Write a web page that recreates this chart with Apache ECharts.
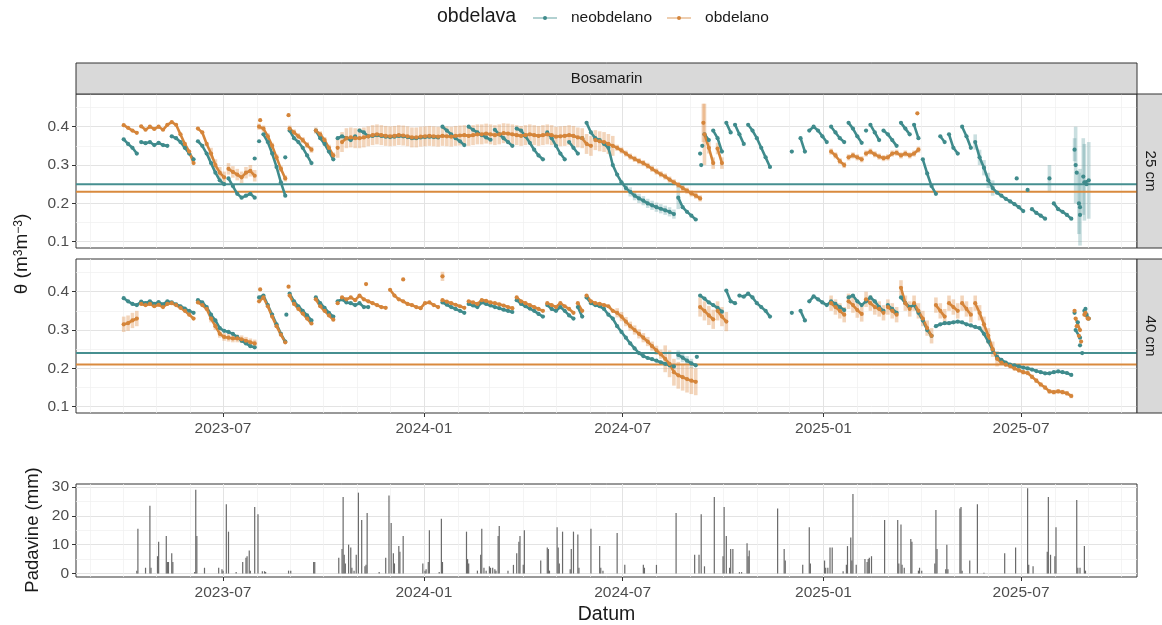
<!DOCTYPE html>
<html>
<head>
<meta charset="utf-8">
<script src="https://cdn.jsdelivr.net/npm/echarts@6/dist/echarts.min.js"></script>
<style>
  html, body { margin: 0; padding: 0; background: #ffffff; }
  #chart { width: 1162px; height: 625px; }
</style>
</head>
<body>
<div id="chart"></div>
<script>
// Soil water content θ (m3/m3), one reading every STEP_DAYS days from SERIES_START; null = no reading.
const SERIES_START = '2023-04-01';
const STEP_DAYS = 4;

// 25 cm, neobdelano
const neo25 = [
  .367,.355,.345,.33,.36,.357,.36,.352,.358,.352,
  .35,.375,.37,.36,.345,.33,.315,.362,.35,.33,
  .305,.28,.26,.25,.265,.245,.225,.215,.22,.225,
  .215,.362,.38,.36,.33,.295,.255,.22,.39,.37,
  .36,.345,.325,.305,.39,.37,.355,.335,.315,.37,
  .375,.37,.365,.375,.39,.385,.375,.376,.378,.376,
  .374,.373,.374,.376,.375,.373,.37,.37,.372,.373,
  .374,.373,.372,.4,.39,.38,.37,.362,.352,.4,
  .392,.385,.378,.372,.366,.392,.38,.37,.36,.35,
  .395,.39,.375,.358,.34,.325,.315,.385,.37,.35,
  .33,.315,.36,.345,.33,.37,.41,.385,.37,.365,
  .355,.345,.3,.275,.255,.24,.23,.22,.213,.207,
  .2,.195,.19,.186,.182,.178,.172,.215,.19,.178,
  .168,.158,.33,.38,.365,.39,.37,.335,.41,.385,
  .405,.38,.355,.405,.39,.37,.345,.32,.295,null,
  null,null,null,.335,null,.37,.335,.39,.4,.39,
  .375,.36,.4,.385,.37,.36,.41,.395,.375,.358,
  .39,.405,.385,.365,.39,.38,.365,.35,.41,.395,
  .38,.405,.37,.315,.278,.245,.225,.375,.36,.38,
  .345,.33,.4,.375,.345,.36,.32,.293,.26,.24,
  .228,.22,.212,.205,.198,.19,.18,.235,.185,.175,
  .168,.16,.265,.2,.185,.178,.17,.16,.3,.19,
  .255,.26
];
// 25 cm, obdelano
const obd25 = [
  .404,.397,.39,.384,.401,.392,.4,.394,.4,.392,
  .405,.412,.405,.38,.355,.335,.305,.395,.385,.355,
  .33,.3,.28,.268,.29,.282,.275,.268,.28,.285,
  .272,.4,.395,.375,.35,.32,.29,.265,.395,.385,
  .375,.365,.352,.34,.39,.38,.365,.345,.325,.345,
  .36,.37,.372,.37,.37,.372,.375,.378,.38,.378,
  .376,.375,.376,.378,.377,.375,.372,.372,.374,.375,
  .376,.375,.374,.376,.375,.374,.376,.377,.378,.376,
  .378,.38,.38,.382,.38,.378,.38,.383,.382,.38,
  .378,.376,.378,.38,.378,.376,.378,.38,.378,.374,
  .375,.376,.378,.376,.372,.37,.355,.35,.365,.362,
  .36,.355,.35,.345,.338,.33,.322,.316,.31,.305,
  .298,.29,.283,.276,.27,.262,.255,.248,.24,.233,
  .226,.22,.213,.38,.345,.305,.343,.305,null,null,
  null,null,null,null,null,null,null,null,null,null,
  null,null,null,null,null,null,null,null,null,null,
  null,null,.335,.325,.31,.3,.32,.325,.32,.315,
  .33,.335,.328,.322,.318,.32,.33,.332,.325,.33,
  .325,.33,.34,null,null,null,null,null,null,null,
  null,null,null,null,null,null,null,null,null,null,
  null,null,null,null,null,null,null,null,null,null,
  null,null,null,null,null,null,null,null,null,null,
  null,null
];
// 40 cm, neobdelano
const neo40 = [
  .383,.375,.368,.365,.374,.37,.375,.368,.373,.367,
  .375,.372,.367,.362,.356,.35,.345,.378,.372,.36,
  .34,.325,.305,.298,.295,.29,.282,.272,.265,.258,
  .255,.385,.39,.365,.34,.315,.29,.27,.395,.375,
  .362,.35,.338,.325,.385,.37,.358,.345,.335,.375,
  .38,.372,.37,.365,.37,.36,.36,null,null,null,
  null,null,null,null,null,null,null,null,null,null,
  null,null,null,.372,.366,.36,.355,.35,.345,.368,
  .364,.36,.372,.368,.364,.36,.357,.353,.35,.347,
  .378,.368,.362,.356,.35,.342,.335,.365,.355,.35,
  .36,.35,.338,.33,.36,.335,.385,.37,.365,.362,
  .355,.34,.33,.31,.295,.28,.265,.252,.24,.232,
  .227,.224,.22,.216,.212,.208,.205,.235,.228,.22,
  .213,.208,.39,.382,.372,.365,.358,.348,.403,.375,
  .37,.39,.387,.395,.385,.37,.36,.35,.335,null,
  null,null,null,.345,null,.35,.325,.375,.388,.38,
  .372,.365,.375,.368,.36,.352,.385,.39,.375,.365,
  .375,.385,.375,.36,.35,.365,.355,.345,.385,.37,
  .36,.365,.345,.325,.3,.285,.31,.315,.318,.318,
  .32,.322,.32,.315,.312,.308,.305,.29,.27,.248,
  .23,.222,.215,.21,.208,.205,.202,.2,.197,.193,
  .19,.187,.187,.19,.192,.19,.188,.183,.3,.28,
  .35,.33
];
// 40 cm, obdelano
const obd40 = [
  .315,.318,.325,.33,.368,.365,.368,.362,.366,.36,
  .368,.37,.365,.358,.35,.34,.33,.372,.365,.355,
  .33,.31,.29,.282,.28,.278,.278,.276,.272,.268,
  .265,.375,.385,.362,.335,.31,.288,.268,.39,.368,
  .355,.343,.33,.317,.38,.362,.35,.338,.327,.37,
  .385,.38,.385,.378,.39,.38,.375,.37,.365,.36,
  .358,.405,.39,.38,.375,.368,.365,.36,.357,.37,
  .372,.365,.36,.378,.374,.37,.366,.362,.358,.375,
  .372,.368,.378,.376,.372,.37,.367,.364,.36,.357,
  .385,.375,.37,.365,.36,.355,.35,.37,.365,.36,
  .37,.362,.355,.345,.37,.35,.39,.375,.37,.368,
  .365,.362,.35,.345,.335,.322,.31,.3,.29,.28,
  .27,.258,.247,.237,.225,.212,.19,.182,.177,.172,
  .168,.165,.36,.35,.338,.328,.35,.335,.322,null,
  null,null,null,null,null,null,null,null,null,null,
  null,null,null,null,null,null,null,null,null,null,
  null,null,.37,.36,.35,.34,.375,.365,.352,.342,
  .38,.37,.36,.355,.345,.36,.35,.34,.41,.37,
  .355,.37,.35,.33,.305,.285,.365,.35,.335,.37,
  .36,.35,.37,.355,.34,.37,.345,.315,.285,.25,
  .225,.215,.21,.206,.2,.195,.19,.188,.178,.168,
  .158,.15,.14,.138,.14,.138,.135,.128,.33,.3,
  .34,.33
];

// Readings between the regular steps: [date, θ, optional error half-width]
const neo25Extra = [['2023-07-30',.317],['2023-08-27',.32],['2024-09-11',.3],['2024-09-12',.35],['2025-06-27',.265],
  ['2025-08-19',.34,.03],['2025-08-21',.28],['2025-08-23',.2,.08],['2025-08-24',.17],['2025-08-27',.27,.1],['2025-08-30',.25]];
const obd25Extra = [['2023-08-04',.417],['2023-08-30',.43],['2024-09-13',.41,.05],['2025-03-28',.435]];
const neo40Extra = [['2023-08-28',.34],['2024-09-07',.23],['2025-08-19',.345],['2025-08-22',.32],['2025-08-24',.26],
  ['2025-08-26',.24],['2025-08-29',.355],['2025-08-30',.34]];
const obd40Extra = [['2023-08-04',.406],['2023-08-30',.413],['2023-11-09',.42],['2023-12-13',.432],['2024-01-18',.44,.012],
  ['2025-08-19',.35],['2025-08-21',.31],['2025-08-23',.285],['2025-08-25',.27],['2025-08-29',.345],['2025-08-31',.33]];

// Spread between sensors: [from, to, half-width]
const neo25Spread = [['2024-07-04','2024-08-17',.012],['2024-08-21','2024-08-21',.03],['2025-05-20','2025-06-05',.02],
  ['2025-07-27','2025-07-27',.035],['2025-08-20','2025-09-01',.1]];
const obd25Spread = [['2023-06-20','2023-07-30',.015],['2023-08-03','2023-10-10',.008],['2023-10-14','2024-06-22',.026],
  ['2024-06-26','2024-09-10',.008],['2024-09-14','2024-09-14',.08],['2024-09-18','2024-09-30',.015],['2025-01-08','2025-03-29',.008]];
const neo40Spread = [['2024-08-21','2024-09-02',.012]];
const obd40Spread = [['2023-04-01','2023-04-13',.02],['2023-06-20','2023-07-30',.01],['2024-06-26','2024-08-05',.012],
  ['2024-08-09','2024-09-06',.035],['2024-09-10','2024-10-04',.025],['2025-01-08','2025-06-09',.02],['2025-06-13','2025-08-16',.006]];

// Critical water content per treatment [neobdelano, obdelano]
const threshold25 = [0.25, 0.23];
const threshold40 = [0.24, 0.21];

// Daily precipitation (mm)
const precipitation = [
  ['2023-04-13',1],['2023-04-14',15.5],['2023-04-21',2],['2023-04-25',23.5],['2023-04-26',2],['2023-05-02',6],['2023-05-03',11],
  ['2023-05-10',13],['2023-05-11',4],['2023-05-12',4],['2023-05-15',7],['2023-05-16',4],['2023-06-05',0.5],['2023-06-06',29],
  ['2023-06-07',13],['2023-06-14',2],['2023-06-27',2],['2023-06-30',1.5],['2023-07-01',1],['2023-07-04',24],['2023-07-06',14.5],
  ['2023-07-13',0.5],['2023-07-19',4],['2023-07-22',5.5],['2023-07-23',6],['2023-07-25',8],['2023-07-26',1],['2023-07-30',23],
  ['2023-08-02',20.5],['2023-08-06',0.8],['2023-08-08',0.8],['2023-08-09',0.5],['2023-08-30',1],['2023-09-01',1],['2023-09-22',4],
  ['2023-09-23',4],['2023-10-15',5.5],['2023-10-18',8.5],['2023-10-19',26.5],['2023-10-20',6.5],['2023-10-21',3.5],['2023-10-24',10],
  ['2023-10-26',9],['2023-10-27',2],['2023-10-29',1],['2023-10-31',6.5],['2023-11-02',28],['2023-11-05',18.5],['2023-11-08',2.5],
  ['2023-11-09',3],['2023-11-10',21],['2023-11-21',0.5],['2023-11-27',5.5],['2023-11-30',27],['2023-12-02',17.5],['2023-12-04',7],
  ['2023-12-05',3.5],['2023-12-09',9.5],['2023-12-10',7.5],['2023-12-13',13],['2023-12-31',3.5],['2024-01-02',1],['2024-01-03',1.5],
  ['2024-01-05',4],['2024-01-06',15],['2024-01-15',0.5],['2024-01-17',19],['2024-01-18',4],['2024-02-09',14.5],['2024-02-10',5],
  ['2024-02-11',3.5],['2024-02-19',1],['2024-02-22',6.5],['2024-02-23',15.5],['2024-02-25',2],['2024-02-27',1],['2024-03-01',2.5],
  ['2024-03-02',2],['2024-03-04',2],['2024-03-06',1.5],['2024-03-07',1],['2024-03-09',13],['2024-03-10',16.5],['2024-03-18',1],
  ['2024-03-23',3],['2024-03-26',7],['2024-03-28',11],['2024-03-29',13],['2024-04-01',3],['2024-04-02',15],['2024-04-17',4.5],
  ['2024-04-23',9],['2024-04-24',8.5],['2024-04-25',1],['2024-05-02',16],['2024-05-03',9],['2024-05-04',3.5],['2024-05-07',14.5],
  ['2024-05-14',1.5],['2024-05-15',8.5],['2024-05-17',14.5],['2024-05-21',13.5],['2024-05-22',2],['2024-06-02',15.5],['2024-06-10',9.5],
  ['2024-06-11',2],['2024-06-13',1],['2024-06-26',14],['2024-07-03',3],['2024-07-20',3],['2024-07-21',2],['2024-08-01',3],
  ['2024-08-19',21],['2024-09-05',6.5],['2024-09-09',6.5],['2024-09-11',20.5],['2024-09-14',2.5],['2024-09-23',26.5],['2024-10-01',6],
  ['2024-10-02',23],['2024-10-04',13],['2024-10-07',2],['2024-10-08',8.5],['2024-10-10',8.5],['2024-10-16',0.5],['2024-10-18',0.5],
  ['2024-10-23',10.5],['2024-10-24',6],['2024-10-25',8],['2024-11-20',22.5],['2024-11-26',8.5],['2024-11-27',4.5],['2024-12-13',3],
  ['2024-12-19',16],['2024-12-20',3.5],['2025-01-02',4.5],['2025-01-03',2],['2025-01-05',2],['2025-01-07',9],['2025-01-09',9],
  ['2025-01-19',0.8],['2025-01-22',3],['2025-01-23',9.5],['2025-01-26',12.5],['2025-01-27',4.5],['2025-01-28',27.5],['2025-01-31',3],
  ['2025-02-08',5],['2025-02-10',4],['2025-02-11',5],['2025-02-12',5.5],['2025-02-14',6],['2025-02-26',18.5],['2025-03-10',18.5],
  ['2025-03-11',3.5],['2025-03-13',17],['2025-03-14',3],['2025-03-16',2],['2025-03-22',12],['2025-03-23',11],['2025-03-29',1],
  ['2025-03-30',2],['2025-04-01',1],['2025-04-13',3.5],['2025-04-14',22],['2025-04-15',8.5],['2025-04-23',1.5],['2025-04-24',10],
  ['2025-04-25',1.5],['2025-05-06',22.5],['2025-05-07',23],['2025-05-08',1],['2025-05-15',4.5],['2025-05-22',24],['2025-05-28',0.3],
  ['2025-06-16',7],['2025-06-26',9],['2025-07-07',29.5],['2025-07-08',3],['2025-07-12',2.5],['2025-07-25',7.5],['2025-07-26',26.5],
  ['2025-07-28',6.5],['2025-08-01',6],['2025-08-02',16],['2025-08-21',25.5],['2025-08-22',2],['2025-08-24',2],['2025-08-28',9.5],
  ['2025-08-29',1]
];

// Axis ticks
const dateTicks = ['2023-07-01', '2024-01-01', '2024-07-01', '2025-01-01', '2025-07-01'];
const thetaTicks = [0.1, 0.2, 0.3, 0.4];
const thetaMinor = [0.15, 0.25, 0.35, 0.45];
const rainTicks = [0, 10, 20, 30];
const rainMinor = [5, 15, 25];

// ---------------------------------------------------------------------------
const DAY = 86400000;
const toT = s => Date.parse(s + 'T00:00:00Z');
const T0 = toT(SERIES_START);
const X_MIN = T0 - 43.7 * DAY;
const X_MAX = T0 + 928.2 * DAY;
const monthLines = [];
for (let k = 0; k < 32; k++) monthLines.push(Date.UTC(2023, 2 + k, 1));
const majorT = dateTicks.map(toT);

const FONT = '"Liberation Sans", Arial, Helvetica, sans-serif';
const TEAL = '#3f8b8c', ORANGE = '#d5853a';
const TEAL_BAR = 'rgba(80,150,152,0.3)', ORANGE_BAR = 'rgba(226,150,84,0.4)';
const INK = '#1a1a1a', TICK_TXT = '#4d4d4d';

const fmtMonth = v => {
  const d = new Date(v);
  return d.getUTCFullYear() + '-' + String(d.getUTCMonth() + 1).padStart(2, '0');
};

function regular(vals) {
  const out = [];
  vals.forEach((v, i) => { if (v !== null) out.push([T0 + i * STEP_DAYS * DAY, v]); });
  return out;
}
function points(vals, extra) {
  return regular(vals).concat(extra.map(e => [toT(e[0]), e[1]]));
}
// Consecutive readings joined into a trace; broken at missing readings and at sudden rises after rain.
function trace(vals) {
  const out = [];
  vals.forEach((v, i) => {
    const t = T0 + i * STEP_DAYS * DAY;
    if (v === null) { out.push([t, null]); return; }
    const prev = vals[i - 1];
    if (prev != null && (v - prev > 0.015 || prev - v > 0.045)) out.push([t - STEP_DAYS * DAY / 2, null]);
    out.push([t, v]);
  });
  return out;
}
function halfWidth(t, spread) {
  for (const s of spread) if (t >= toT(s[0]) && t <= toT(s[1])) return s[2];
  return 0;
}
function errorBars(vals, extra, spread) {
  const pts = regular(vals).map(p => [p[0], p[1], halfWidth(p[0], spread)]);
  extra.forEach(e => { if (e[2]) pts.push([toT(e[0]), e[1], e[2]]); });
  return pts.filter(p => p[2] > 0).map(p => [p[0], p[1] - p[2], p[1] + p[2]]);
}

const GRIDS = [
  { left: 76, top: 94, width: 1061, height: 154 },
  { left: 76, top: 259, width: 1061, height: 154 },
  { left: 76, top: 484, width: 1061, height: 93 }
];

function xAxes(g, labelled) {
  return [
    { type: 'value', gridIndex: g, position: 'top', min: X_MIN, max: X_MAX,
      axisLine: { show: false, onZero: false }, axisTick: { show: false, customValues: monthLines },
      axisLabel: { show: false }, splitLine: { show: true, lineStyle: { color: '#efefef', width: 0.7 } } },
    { type: 'value', gridIndex: g, position: 'bottom', min: X_MIN, max: X_MAX,
      axisLine: { show: false, onZero: false },
      axisTick: { show: labelled, length: 4, lineStyle: { color: '#333333', width: 1 }, customValues: majorT },
      axisLabel: { show: labelled, customValues: majorT, formatter: fmtMonth, fontSize: 15.5, color: TICK_TXT,
                   margin: 8, fontFamily: FONT },
      splitLine: { show: true, lineStyle: { color: '#e3e3e3', width: 1 } } }
  ];
}
function yAxes(g, min, max, majors, minors) {
  return [
    { type: 'value', gridIndex: g, position: 'right', min, max,
      axisLine: { show: false, onZero: false }, axisTick: { show: false, customValues: minors },
      axisLabel: { show: false }, splitLine: { show: true, lineStyle: { color: '#efefef', width: 0.7 } } },
    { type: 'value', gridIndex: g, position: 'left', min, max,
      axisLine: { show: false, onZero: false },
      axisTick: { show: true, length: 4, lineStyle: { color: '#333333', width: 1 }, customValues: majors },
      axisLabel: { customValues: majors, fontSize: 15.5, color: TICK_TXT, margin: 7, fontFamily: FONT },
      splitLine: { show: true, lineStyle: { color: '#e3e3e3', width: 1 } } }
  ];
}

function barSeries(data, color, g) {
  return {
    type: 'custom', xAxisIndex: 2 * g + 1, yAxisIndex: 2 * g + 1, data, silent: true, z: 2,
    encode: { x: 0, y: [1, 2] },
    renderItem(params, api) {
      const a = api.coord([api.value(0), api.value(1)]);
      const b = api.coord([api.value(0), api.value(2)]);
      return { type: 'line', shape: { x1: a[0], y1: a[1], x2: b[0], y2: b[1] },
               style: { stroke: color, lineWidth: 3.6 } };
    }
  };
}
function traceSeries(vals, color, g) {
  return { type: 'line', xAxisIndex: 2 * g + 1, yAxisIndex: 2 * g + 1, data: trace(vals), silent: true, z: 4,
           showSymbol: false, symbol: 'none', connectNulls: false, lineStyle: { color, width: 2.6 } };
}
function pointSeries(name, data, color, g) {
  return { type: 'scatter', name, xAxisIndex: 2 * g + 1, yAxisIndex: 2 * g + 1, data, silent: true, z: 4,
           symbol: 'circle', symbolSize: 4.2, itemStyle: { color, opacity: 1 } };
}
function hline(value, color, g) {
  return { type: 'line', xAxisIndex: 2 * g + 1, yAxisIndex: 2 * g + 1, silent: true, z: 3,
           data: [[X_MIN, value], [X_MAX, value]], showSymbol: false, symbol: 'none',
           lineStyle: { color, width: 2 } };
}

const Y_MIN = 0.0836, Y_MAX = 0.4853;

const option = {
  useUTC: true,
  animation: false,
  backgroundColor: '#ffffff',
  textStyle: { fontFamily: FONT },
  title: { text: 'obdelava', left: 437, top: 7, padding: 0,
           textStyle: { fontSize: 19.5, fontWeight: 'normal', color: INK, fontFamily: FONT } },
  legend: {
    data: ['neobdelano', 'obdelano'], left: 532, top: 10, padding: 0,
    itemWidth: 24, itemHeight: 5, itemGap: 14, selectedMode: false,
    textStyle: { fontSize: 15.5, color: INK, fontFamily: FONT, padding: [0, 0, 0, 9] }
  },
  grid: GRIDS.map(g => Object.assign({ show: true, borderColor: '#333333', borderWidth: 1,
                                        containLabel: false, outerBoundsMode: 'none' }, g)),
  xAxis: [].concat(xAxes(0, false), xAxes(1, true), xAxes(2, true)),
  yAxis: [].concat(
    yAxes(0, Y_MIN, Y_MAX, thetaTicks, thetaMinor),
    yAxes(1, Y_MIN, Y_MAX, thetaTicks, thetaMinor),
    yAxes(2, -1.2, 31, rainTicks, rainMinor)
  ),
  series: [
    // legend keys
    { name: 'neobdelano', type: 'line', data: [], xAxisIndex: 1, yAxisIndex: 1, symbol: 'circle', symbolSize: 4,
      lineStyle: { color: 'rgba(63,139,140,0.4)', width: 2 }, itemStyle: { color: TEAL } },
    { name: 'obdelano', type: 'line', data: [], xAxisIndex: 1, yAxisIndex: 1, symbol: 'circle', symbolSize: 4,
      lineStyle: { color: 'rgba(213,133,58,0.4)', width: 2 }, itemStyle: { color: ORANGE } },

    // 25 cm
    barSeries(errorBars(neo25, neo25Extra, neo25Spread), TEAL_BAR, 0),
    barSeries(errorBars(obd25, obd25Extra, obd25Spread), ORANGE_BAR, 0),
    hline(threshold25[0], '#468f90', 0),
    hline(threshold25[1], '#d98a3e', 0),
    traceSeries(neo25, TEAL, 0),
    pointSeries('neobdelano', points(neo25, neo25Extra), TEAL, 0),
    traceSeries(obd25, ORANGE, 0),
    pointSeries('obdelano', points(obd25, obd25Extra), ORANGE, 0),

    // 40 cm
    barSeries(errorBars(neo40, neo40Extra, neo40Spread), TEAL_BAR, 1),
    barSeries(errorBars(obd40, obd40Extra, obd40Spread), ORANGE_BAR, 1),
    hline(threshold40[0], '#468f90', 1),
    hline(threshold40[1], '#d98a3e', 1),
    traceSeries(neo40, TEAL, 1),
    pointSeries('neobdelano', points(neo40, neo40Extra), TEAL, 1),
    traceSeries(obd40, ORANGE, 1),
    pointSeries('obdelano', points(obd40, obd40Extra), ORANGE, 1),

    // precipitation
    { type: 'bar', xAxisIndex: 5, yAxisIndex: 5, silent: true, barWidth: 1.2,
      data: precipitation.map(p => [toT(p[0]), p[1]]), itemStyle: { color: '#6a6a6a' } }
  ],
  graphic: [
    { type: 'rect', shape: { x: 76, y: 63, width: 1061, height: 31 },
      style: { fill: '#d9d9d9', stroke: '#333333', lineWidth: 1 }, z: 10 },
    { type: 'text', x: 606.5, y: 79, z: 11,
      style: { text: 'Bosamarin', fontSize: 15, fontFamily: FONT, fill: INK, align: 'center', verticalAlign: 'middle',
               textAlign: 'center', textVerticalAlign: 'middle' } },
    { type: 'rect', shape: { x: 1137, y: 94, width: 30, height: 154 },
      style: { fill: '#d9d9d9', stroke: '#333333', lineWidth: 1 }, z: 10 },
    { type: 'text', x: 1150, y: 171, rotation: -Math.PI / 2, z: 11,
      style: { text: '25 cm', fontSize: 15, fontFamily: FONT, fill: INK, align: 'center', verticalAlign: 'middle',
               textAlign: 'center', textVerticalAlign: 'middle' } },
    { type: 'rect', shape: { x: 1137, y: 259, width: 30, height: 154 },
      style: { fill: '#d9d9d9', stroke: '#333333', lineWidth: 1 }, z: 10 },
    { type: 'text', x: 1150, y: 336, rotation: -Math.PI / 2, z: 11,
      style: { text: '40 cm', fontSize: 15, fontFamily: FONT, fill: INK, align: 'center', verticalAlign: 'middle',
               textAlign: 'center', textVerticalAlign: 'middle' } },
    { type: 'text', x: 22, y: 254, rotation: Math.PI / 2, z: 11,
      style: { text: 'θ (m{s|3}m{s|−3})', fontSize: 19, fontFamily: FONT, fill: INK, align: 'center',
               verticalAlign: 'middle', textAlign: 'center', textVerticalAlign: 'middle',
               rich: { s: { fontSize: 12, verticalAlign: 'top', fontFamily: FONT, fill: INK, color: INK } } } },
    { type: 'text', x: 33, y: 530, rotation: Math.PI / 2, z: 11,
      style: { text: 'Padavine (mm)', fontSize: 18.5, fontFamily: FONT, fill: INK, align: 'center',
               verticalAlign: 'middle', textAlign: 'center', textVerticalAlign: 'middle' } },
    { type: 'text', x: 606.5, y: 615, z: 11,
      style: { text: 'Datum', fontSize: 19.5, fontFamily: FONT, fill: INK, align: 'center',
               verticalAlign: 'middle', textAlign: 'center', textVerticalAlign: 'middle' } }
  ]
};

const chart = echarts.init(document.getElementById('chart'), null, { renderer: 'canvas' });
chart.setOption(option);
</script>
</body>
</html>
